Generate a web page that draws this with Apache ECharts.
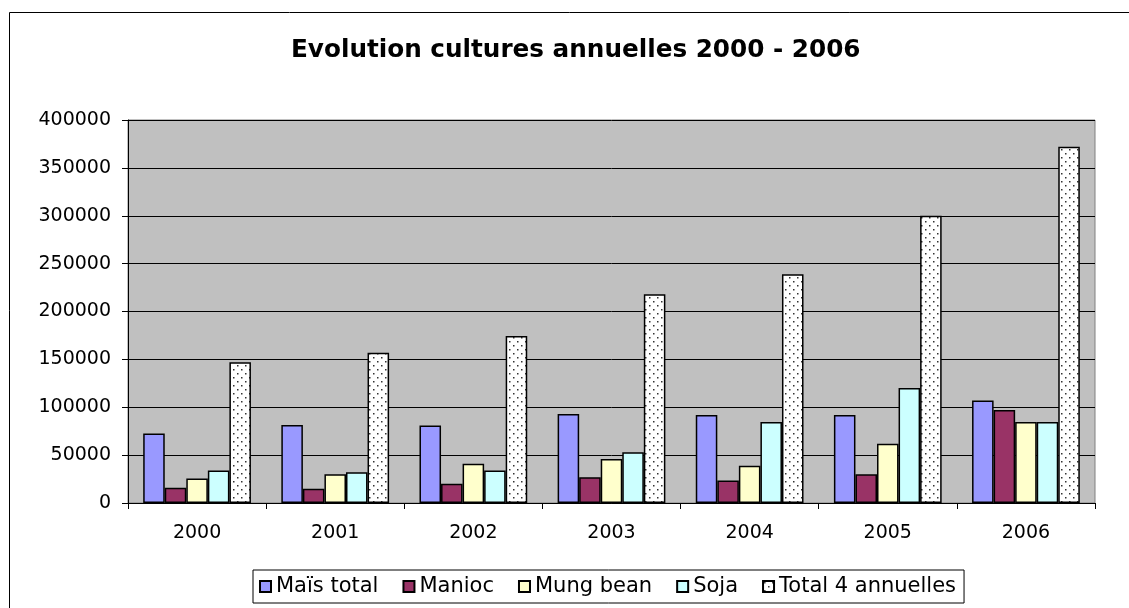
<!DOCTYPE html>
<html><head><meta charset="utf-8">
<script src="https://cdn.jsdelivr.net/npm/echarts@6/dist/echarts.min.js"></script>
<style>html,body{margin:0;padding:0;background:#fff}#c{width:1129px;height:608px}</style>
</head><body><div id="c"></div>
<script>
const categories = ['2000','2001','2002','2003','2004','2005','2006'];
const mais = [72500, 81500, 81000, 93000, 92000, 92000, 107000];
const manioc = [16000, 15000, 20000, 27000, 23500, 30000, 97000];
const mung = [25500, 30000, 41000, 46000, 39000, 62000, 84500];
const soja = [34000, 32000, 34000, 53000, 84500, 120000, 84500];
const total = [147000, 157000, 174500, 218000, 239000, 300000, 372000];
const seriesNames = ['Maïs total', 'Manioc', 'Mung bean', 'Soja', 'Total 4 annuelles'];

const pc = document.createElement('canvas');
pc.width = 8; pc.height = 8;
const g = pc.getContext('2d');
g.fillStyle = '#fff'; g.fillRect(0,0,8,8);
g.fillStyle = '#333';
g.fillRect(1,1,1.5,1.5);
g.fillRect(5,5,1.5,1.5);
const dotPattern = { image: pc, repeat: 'repeat' };

const chart = echarts.init(document.getElementById('c'), null, {renderer:'canvas'});
const font = 'DejaVu Sans, Arial, sans-serif';
function bar(name, data, color){
  return { name, type:'bar', data, barGap:'0%', barCategoryGap:'22%',
    itemStyle:{ color, borderColor:'#000', borderWidth:1.5 }, emphasis:{disabled:true} };
}
chart.setOption({
  animation:false,
  textStyle:{ fontFamily: font },
  title:{ text:'Evolution cultures annuelles 2000 - 2006', left:286, top:33,
    textStyle:{ fontFamily:font, fontSize:24.7, fontWeight:'bold', color:'#000' } },
  graphic:[{ type:'rect', shape:{x:9.5,y:12.5,width:1130,height:620}, style:{fill:'none', stroke:'#000', lineWidth:1}, silent:true }],
  grid:{ left:128, right:34, top:120, bottom:105, show:true, backgroundColor:'#C0C0C0', borderColor:'#808080', borderWidth:1 },
  legend:{ bottom:5, left:253, itemWidth:11, itemHeight:11, itemGap:24,
    padding:[6,8,6,6], borderColor:'#000', borderWidth:1, backgroundColor:'#fff',
    icon:'rect',
    textStyle:{ fontFamily:font, fontSize:21, color:'#000' },
    data: seriesNames },
  xAxis:{ type:'category', data:categories,
    axisLine:{ lineStyle:{ color:'#000', width:1 } },
    axisTick:{ show:true, length:6, inside:false, lineStyle:{color:'#000'} },
    axisLabel:{ fontFamily:font, fontSize:19, color:'#000', margin:21 } },
  yAxis:{ type:'value', min:0, max:400000, interval:50000,
    axisLine:{ show:true, lineStyle:{ color:'#000', width:1 } },
    axisTick:{ show:true, length:6, lineStyle:{color:'#000'} },
    axisLabel:{ fontFamily:font, fontSize:19, color:'#000', margin:17, formatter: v => String(v) },
    splitLine:{ lineStyle:{ color:'#000', width:1 } } },
  series:[
    bar(seriesNames[0], mais, '#9999FF'),
    bar(seriesNames[1], manioc, '#993366'),
    bar(seriesNames[2], mung, '#FFFFCC'),
    bar(seriesNames[3], soja, '#CCFFFF'),
    bar(seriesNames[4], total, dotPattern)
  ]
});
</script></body></html>
